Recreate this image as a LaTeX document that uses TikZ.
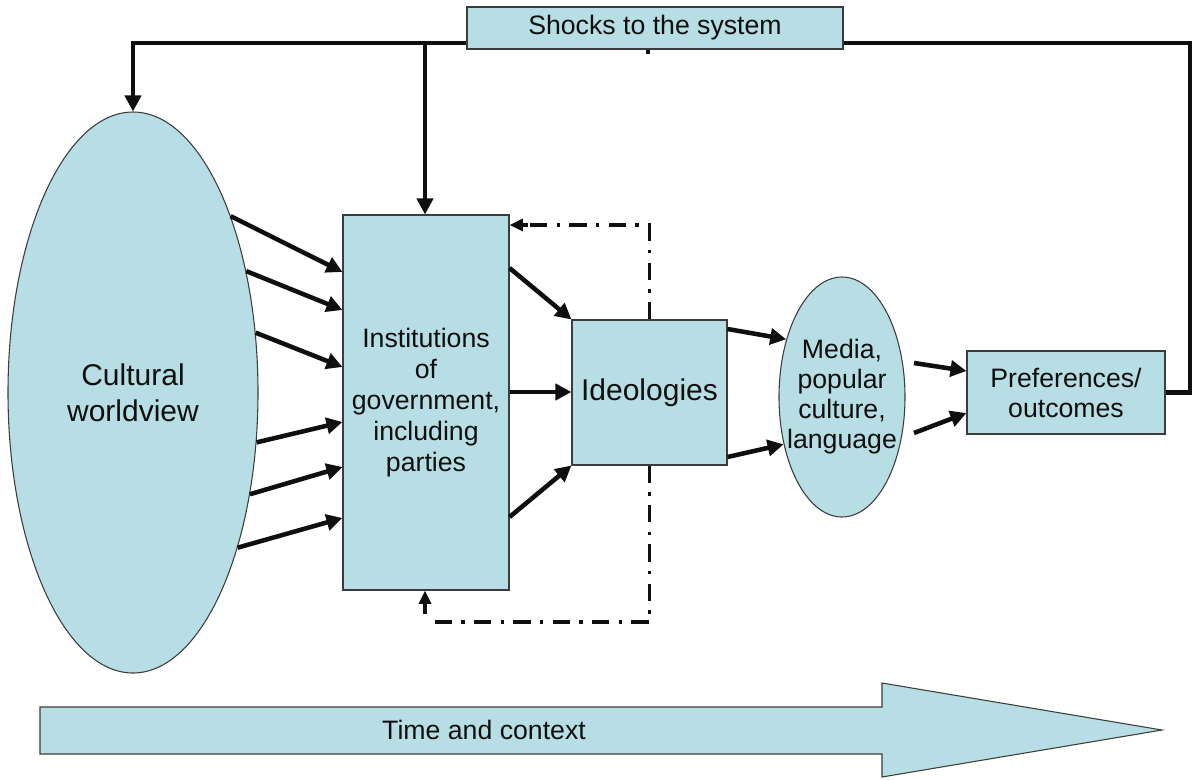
\documentclass[tikz,border=0pt]{standalone}
\usepackage{fontspec}
\setmainfont{Liberation Sans}
\usetikzlibrary{arrows.meta,shapes.geometric}

\definecolor{paleblue}{RGB}{183,222,228}
\definecolor{edgegray}{RGB}{60,60,60}
\definecolor{inkblack}{RGB}{15,15,15}

\begin{document}
\begin{tikzpicture}[x=0.75pt,y=-0.75pt,
  shapebox/.style={draw=edgegray, line width=0.8pt, fill=paleblue, inner sep=0pt},
  rectbox/.style={shapebox, rectangle},
  ovalbox/.style={shapebox, ellipse},
  txt/.style={text=inkblack, align=center, font=\fontsize{20}{22.5}\selectfont},
  largetxt/.style={text=inkblack, align=center, font=\fontsize{22.5}{27}\selectfont},
  flow/.style={draw=inkblack, line width=3.4pt, -{Triangle[length=12pt,width=12pt]}},
  feed/.style={draw=inkblack, line width=3.4pt},
  loopline/.style={draw=inkblack, line width=2.6pt, dash pattern=on 13pt off 7pt on 2.5pt off 7pt},
  looptip/.style={draw=inkblack, line width=2.6pt, -{Triangle[length=10pt,width=9pt]}}
]
\useasboundingbox (0,0) rectangle (1200,779);

% main blocks
\node[rectbox, minimum width=282pt, minimum height=31.5pt, txt] (shocks) at (655,28) {Shocks to the system};
\node[ovalbox, minimum width=187.5pt, minimum height=420.75pt] (cw) at (133,392.5) {};
\node[largetxt] (cwtext) at (cw.center) {Cultural\\worldview};
\node[rectbox, minimum width=124.5pt, minimum height=281.25pt, txt,
      font=\fontsize{20}{23.25}\selectfont] (inst) at (426,402.5)
      {Institutions\\of\\government,\\including\\parties};
\node[rectbox, minimum width=116.25pt, minimum height=108.75pt, largetxt] (ideo) at (649.5,392.5) {Ideologies};
\node[ovalbox, minimum width=94.5pt, minimum height=180pt] (media) at (842,397) {};
\node[txt] (mediatext) at (media.center) {Media,\\popular\\culture,\\language};
\node[rectbox, minimum width=148.5pt, minimum height=62.25pt, txt] (pref) at (1066,392.5) {Preferences/\\outcomes};

% cultural worldview feeding the institutions
\draw[flow] (cw.61.6)  -- (inst.west |- 0,272);
\draw[flow] (cw.47.7)  -- (inst.west |- 0,310);
\draw[flow] (cw.26.6)  -- (inst.west |- 0,367);
\draw[flow] (cw.338.4) -- (inst.west |- 0,422);
\draw[flow] (cw.319.1) -- (inst.west |- 0,467);
\draw[flow] (cw.304.7) -- (inst.west |- 0,518);

% institutions to ideologies
\draw[flow] (inst.east |- 0,268) -- (ideo.north west);
\draw[flow] (inst.east |- 0,392) -- (ideo.west |- 0,392);
\draw[flow] (inst.east |- 0,517) -- (ideo.south west);

% ideologies to media
\draw[flow] (ideo.east |- 0,329) -- (media.134.5);
\draw[flow] (ideo.east |- 0,457) -- (media.219.4);

% media to preferences
\coordinate (m1) at (914,363);
\coordinate (m2) at (914,433);
\draw[flow] (m1) -- (pref.west |- 0,371);
\draw[flow] (m2) -- (pref.west |- 0,413);

% shocks feeding back into the system
\coordinate (jl) at (425,43);
\coordinate (jr) at (1190,43);
\draw[feed, -{Triangle[length=12pt,width=12pt]}] (shocks.west |- jl) -| (cw.north);
\draw[flow] (jl) -- (jl |- inst.north);
\draw[feed] (shocks.east |- jl) -- (jr) |- (pref.east);
\draw[draw=inkblack, line width=2.4pt] (shocks.south -| 648,0) -- ++(0,4);

% ideologies looping back to the institutions
\draw[loopline] (ideo.north) |- (inst.east |- 0,225);
\draw[looptip] ([xshift=14pt]inst.east |- 0,225) -- (inst.east |- 0,225);
\coordinate (lb) at (432,622);
\draw[loopline] (ideo.south) |- (lb);
\coordinate (lbs) at (425,614);
\draw[looptip] (lbs) -- (lbs |- inst.south);

% time axis
\draw[draw=edgegray, line width=0.8pt, fill=paleblue]
  (40,707) -- (882,707) -- (882,683) -- (1162,730) -- (882,777) -- (882,754) -- (40,754) -- cycle;
\node[txt] (timetext) at (484,730) {Time and context};
\end{tikzpicture}
\end{document}
